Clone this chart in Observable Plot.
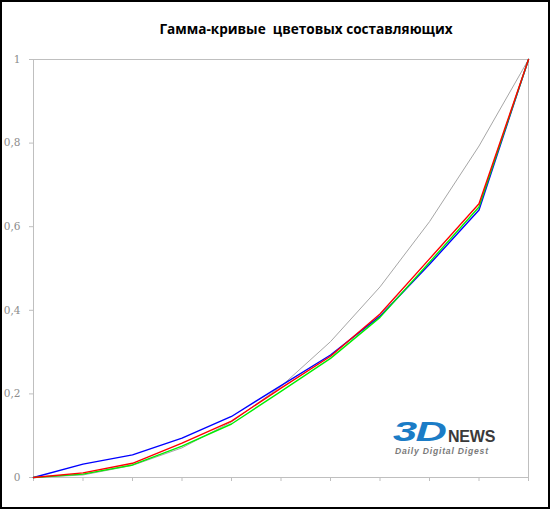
<!DOCTYPE html>
<html>
<head>
<meta charset="utf-8">
<script src="https://cdn.jsdelivr.net/npm/d3@7"></script>
<script src="https://cdn.jsdelivr.net/npm/@observablehq/plot@0.6"></script>
<style>
  body { margin: 0; background: #fff; }
  #box {
    position: relative; box-sizing: border-box;
    width: 550px; height: 509px; border: 2px solid #000; background: #fff;
  }
  #title {
    height: 42px; box-sizing: border-box; padding-top: 17px;
    text-align: center; font: bold 13.6px "Open Sans", sans-serif; color: #000;
    white-space: pre; padding-left: 62px;
  }
  #logo { position: absolute; left: 391px; top: 416px; width: 110px; height: 40px; }
  #logo .d3 {
    position: absolute; left: 0; top: 0; font: bold italic 28px "Liberation Sans", sans-serif;
    color: #1b7cc6; transform: scaleX(1.55); transform-origin: left top; letter-spacing: -1px;
    line-height: 28px;
  }
  #logo .news {
    position: absolute; left: 55px; top: 11px; font: bold 16px "Liberation Sans", sans-serif;
    color: #3a3a3a; letter-spacing: -0.2px; line-height: 16px;
  }
  #logo .sub {
    position: absolute; left: 2px; top: 29px; font: bold italic 8.6px "Liberation Sans", sans-serif;
    color: #7a7a7a; white-space: nowrap; letter-spacing: 0.8px; line-height: 9px;
  }
</style>
</head>
<body>
<div id="box">
  <div id="title">Гамма-кривые  цветовых составляющих</div>
  <div id="chart"></div>
  <div id="logo"><span class="d3">3D</span><span class="news">NEWS</span><span class="sub">Daily Digital Digest</span></div>
</div>
<script>
// Input level steps (11 points along the ramp)
const steps = [0, 1, 2, 3, 4, 5, 6, 7, 8, 9, 10];

// Measured output per channel, normalised to 0..1
const reference = [0, 0.006, 0.029, 0.071, 0.133, 0.218, 0.325, 0.456, 0.612, 0.793, 1];
const blue  = [0, 0.032, 0.054, 0.094, 0.146, 0.220, 0.293, 0.386, 0.510, 0.640, 1];
const green = [0, 0.008, 0.030, 0.075, 0.128, 0.206, 0.285, 0.383, 0.515, 0.647, 1];
const red   = [0, 0.011, 0.034, 0.082, 0.135, 0.214, 0.290, 0.391, 0.523, 0.655, 1];

const yTicks = [0, 0.2, 0.4, 0.6, 0.8, 1];
const yTickLabels = ["0", "0,2", "0,4", "0,6", "0,8", "1"];

const series = [
  {name: "reference", values: reference, color: "#a6a6a6", width: 1},
  {name: "blue", values: blue, color: "#0000ff", width: 1.4},
  {name: "green", values: green, color: "#00ee00", width: 1.4},
  {name: "red", values: red, color: "#ff0000", width: 1.4}
];

const rows = series.flatMap(s => steps.map((x, i) => ({series: s.name, x, y: s.values[i]})));
const frameColor = "#bfbfbf";
const first = steps[0], last = steps[steps.length - 1];

const chart = Plot.plot({
  width: 546,
  height: 463,
  marginLeft: 31,
  marginRight: 20,
  marginTop: 15,
  marginBottom: 30,
  x: {type: "linear", domain: [first, last]},
  y: {type: "linear", domain: [0, 1]},
  style: {background: "#fff", overflow: "visible"},
  marks: [
    // plot-area border (top and right) plus the axis lines
    Plot.ruleY([1], {stroke: frameColor}),
    Plot.ruleX([last], {stroke: frameColor}),
    Plot.ruleX([first], {stroke: frameColor}),
    Plot.ruleY([0], {stroke: frameColor}),
    Plot.axisX({ticks: steps, tickSize: 4, tickFormat: () => "", stroke: frameColor, strokeOpacity: 1, label: null}),
    Plot.axisY({
      ticks: yTicks, tickSize: 4, tickPadding: 9,
      tickFormat: d => yTickLabels[yTicks.indexOf(d)],
      stroke: frameColor, strokeOpacity: 1, color: "#8c8c8c",
      fontFamily: "DejaVu Serif", fontSize: 10.5, label: null
    }),
    ...series.map(s => Plot.line(rows.filter(r => r.series === s.name), {
      x: "x", y: "y", stroke: s.color, strokeWidth: s.width, curve: "linear"
    }))
  ]
});
chart.style.display = "block";
document.getElementById("chart").appendChild(chart);
</script>
</body>
</html>
